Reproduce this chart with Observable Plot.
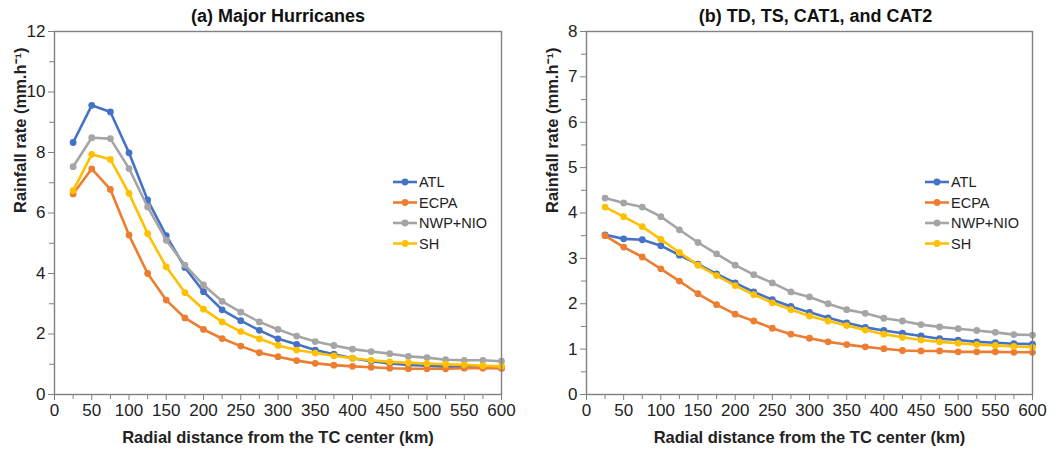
<!DOCTYPE html>
<html><head><meta charset="utf-8">
<script src="https://cdn.jsdelivr.net/npm/d3@7"></script>
<script src="https://cdn.jsdelivr.net/npm/@observablehq/plot@0.6"></script>
<style>
body{margin:0;background:#fff;font-family:"Liberation Sans",Arial,sans-serif;}
#wrap{position:relative;width:1060px;height:449px;display:flex;}
.panel{position:relative;width:530px;height:449px;}
.legend{position:absolute;}
</style></head><body><div id="wrap"></div>
<script>
const distances = [25,50,75,100,125,150,175,200,225,250,275,300,325,350,375,400,425,450,475,500,525,550,575,600];
const seriesNames = ["ATL","ECPA","NWP+NIO","SH"];
const seriesColors = ["#4472C4","#ED7D31","#A5A5A5","#FFC000"];

// (a) Major Hurricanes
const majorATL  = [8.33,9.56,9.34,7.99,6.43,5.25,4.2,3.4,2.8,2.44,2.12,1.84,1.66,1.47,1.33,1.2,1.1,1.03,0.98,0.95,0.92,0.91,0.9,0.87];
const majorECPA = [6.63,7.46,6.78,5.27,4.0,3.12,2.53,2.15,1.85,1.6,1.38,1.25,1.12,1.03,0.97,0.93,0.9,0.87,0.85,0.85,0.85,0.87,0.87,0.87];
const majorNWP  = [7.53,8.49,8.46,7.47,6.2,5.1,4.28,3.62,3.08,2.72,2.4,2.15,1.93,1.75,1.62,1.5,1.42,1.35,1.26,1.22,1.15,1.13,1.13,1.1];
const majorSH   = [6.74,7.94,7.77,6.65,5.32,4.22,3.37,2.82,2.4,2.08,1.84,1.62,1.47,1.37,1.28,1.2,1.13,1.08,1.05,1.02,1.0,0.98,0.95,0.93];

// (b) TD, TS, CAT1, and CAT2
const weakATL  = [3.52,3.43,3.41,3.28,3.07,2.87,2.66,2.46,2.26,2.09,1.94,1.81,1.69,1.58,1.48,1.41,1.35,1.29,1.23,1.2,1.16,1.14,1.12,1.11];
const weakECPA = [3.5,3.25,3.03,2.77,2.5,2.22,1.98,1.77,1.62,1.46,1.33,1.24,1.16,1.1,1.05,1.01,0.97,0.96,0.96,0.94,0.94,0.94,0.93,0.93];
const weakNWP  = [4.33,4.22,4.13,3.92,3.63,3.35,3.1,2.85,2.64,2.46,2.26,2.15,2.0,1.87,1.79,1.68,1.62,1.54,1.49,1.45,1.41,1.37,1.32,1.31];
const weakSH   = [4.13,3.92,3.7,3.42,3.13,2.85,2.62,2.4,2.2,2.02,1.87,1.73,1.62,1.52,1.42,1.33,1.26,1.2,1.16,1.13,1.1,1.08,1.06,1.04];

const xTicks = [0,50,100,150,200,250,300,350,400,450,500,550,600];
const xMinor = [25,75,125,175,225,275,325,375,425,475,525,575];
const yTicksA = [0,2,4,6,8,10,12];
const yMinorA = [1,3,5,7,9,11];
const yTicksB = [0,1,2,3,4,5,6,7,8];
const yMinorB = [0.5,1.5,2.5,3.5,4.5,5.5,6.5,7.5];

const titleA = "(a) Major Hurricanes";
const titleB = "(b) TD, TS, CAT1, and CAT2";
const xLabel = "Radial distance from the TC center (km)";
const yLabel = "Rainfall rate (mm.h\u207B\u00B9)";

function toRows(arrays) {
  const rows = [];
  arrays.forEach((arr, i) => arr.forEach((v, j) => rows.push({x: distances[j], v, series: seriesNames[i]})));
  return rows;
}

const FONT = "Liberation Sans, Arial, sans-serif";
const AXIS = "#808080";

function panel({title, arrays, yMax, yTicks, yMinor, ml, mr, titleDx}) {
  const data = toRows(arrays);
  const seriesMarks = [];
  seriesNames.forEach((s) => {
    const d = data.filter(r => r.series === s);
    seriesMarks.push(Plot.line(d, {x: "x", y: "v", stroke: "series", strokeWidth: 2.6}));
    seriesMarks.push(Plot.dot(d, {x: "x", y: "v", fill: "series", r: 3.4}));
  });
  return Plot.plot({
    width: 530, height: 449,
    marginLeft: ml, marginRight: mr, marginTop: 31, marginBottom: 55,
    style: {fontFamily: FONT, fontSize: "17px", color: "#222", background: "#fff", overflow: "visible"},
    x: {domain: [0, 600]},
    y: {domain: [0, yMax]},
    color: {domain: seriesNames, range: seriesColors},
    marks: [
      Plot.axisX({ticks: xTicks, tickSize: 6, tickPadding: 3, label: null, stroke: AXIS, fill: "#222", fontSize: 17, tickFormat: d => String(d)}),
      Plot.axisX({ticks: xMinor, tickSize: 5, text: null, label: null, stroke: AXIS}),
      Plot.axisY({ticks: yTicks, tickSize: 6, tickPadding: 3, label: null, stroke: AXIS, fill: "#222", fontSize: 17, tickFormat: d => String(d)}),
      Plot.axisY({ticks: yMinor, tickSize: 5, text: null, label: null, stroke: AXIS}),
      ...seriesMarks,
      Plot.frame({stroke: AXIS, strokeWidth: 1.4}),
      Plot.text([title], {frameAnchor: "top", lineAnchor: "middle", dy: -15, dx: titleDx, fontWeight: "bold", fontSize: 18, fill: "#111"}),
      Plot.text([xLabel], {frameAnchor: "bottom", lineAnchor: "middle", dy: 43, fontWeight: "bold", fontSize: 16.5, fill: "#222"}),
      Plot.text([yLabel], {frameAnchor: "left", lineAnchor: "middle", dx: -34, rotate: -90, fontWeight: "bold", fontSize: 16.5, fill: "#222"})
    ]
  });
}

function legend(left, top) {
  const svg = d3.create("svg").attr("class", "legend").attr("width", 120).attr("height", 90)
    .style("left", left + "px").style("top", top + "px");
  seriesNames.forEach((s, i) => {
    const y = 8 + i * 20.5;
    svg.append("line").attr("x1", 2).attr("x2", 26).attr("y1", y).attr("y2", y)
      .attr("stroke", seriesColors[i]).attr("stroke-width", 2.6);
    svg.append("circle").attr("cx", 14).attr("cy", y).attr("r", 3.4).attr("fill", seriesColors[i]);
    svg.append("text").attr("x", 28).attr("y", y).attr("dy", "0.35em")
      .attr("font-family", FONT).attr("font-size", 14.5).attr("fill", "#222").text(s);
  });
  return svg.node();
}

const wrap = document.getElementById("wrap");
const pa = document.createElement("div"); pa.className = "panel";
pa.appendChild(panel({title: titleA, arrays: [majorATL, majorECPA, majorNWP, majorSH], yMax: 12, yTicks: yTicksA, yMinor: yMinorA, ml: 54, mr: 29, titleDx: 0}));
pa.appendChild(legend(391, 174));
const pb = document.createElement("div"); pb.className = "panel";
pb.appendChild(panel({title: titleB, arrays: [weakATL, weakECPA, weakNWP, weakSH], yMax: 8, yTicks: yTicksB, yMinor: yMinorB, ml: 56, mr: 28, titleDx: 6}));
pb.appendChild(legend(393, 174));
wrap.appendChild(pa); wrap.appendChild(pb);
</script></body></html>
